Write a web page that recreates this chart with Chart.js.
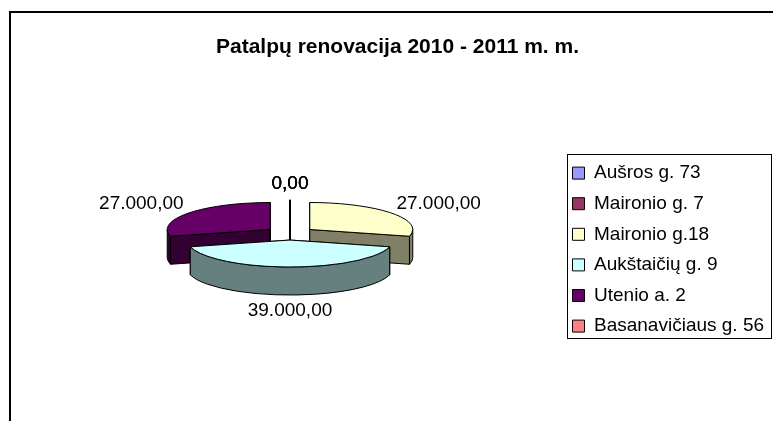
<!DOCTYPE html>
<html><head><meta charset="utf-8">
<script src="https://cdn.jsdelivr.net/npm/chart.js@4"></script>
<style>
html,body{margin:0;padding:0;background:#fff;overflow:hidden}
#wrap{position:relative;width:773px;height:421px}
#frame{position:absolute;left:9px;top:11px;right:-5px;bottom:-5px;border-left:2.5px solid #000;border-top:2.5px solid #000}
canvas{position:absolute;left:0;top:0}
</style></head><body>
<div id="wrap"><canvas id="c" width="773" height="421"></canvas><div id="frame"></div></div>
<script>
const titleText = 'Patalpų renovacija 2010 - 2011 m. m.';
const categories = ['Aušros g. 73','Maironio g. 7','Maironio g.18','Aukštaičių g. 9','Utenio a. 2','Basanavičiaus g. 56'];
const values = [0,0,27000,39000,27000,0];
const topColors = ['#9999FF','#993366','#FFFFCC','#CCFFFF','#660066','#FF8080'];
const sideColors = ['#4D4D80','#4D1A33','#808066','#668080','#330033','#804040'];
const FONT = '"Liberation Sans", Arial, sans-serif';
const LABEL_SIZE = 19, TILT = 0.262, DEPTH = 28, EXPLODE = 25, LABEL_R = 188;

const fmt = v => v.toFixed(2).replace('.', ',').replace(/\B(?=(\d{3})(?!\d))/g, '.');

function geom(a){
  const mid = (a.startAngle + a.endAngle) / 2;
  return {
    cx: a.x + Math.cos(mid) * EXPLODE,
    cy: a.y + Math.sin(mid) * EXPLODE * TILT,
    r: a.outerRadius, ry: a.outerRadius * TILT, mid
  };
}
function pt(g, t, d){ return [g.cx + Math.cos(t) * g.r, g.cy + Math.sin(t) * g.ry + (d||0)]; }
function paint(ctx, fill){ if (fill){ctx.fillStyle = fill; ctx.fill();} ctx.strokeStyle = '#000'; ctx.lineWidth = 1; ctx.stroke(); }

function drawWalls(ctx, a, side){
  const g = geom(a);
  [a.startAngle, a.endAngle].forEach(t => {
    const p = pt(g, t);
    ctx.beginPath();
    ctx.moveTo(g.cx, g.cy); ctx.lineTo(p[0], p[1]);
    ctx.lineTo(p[0], p[1] + DEPTH); ctx.lineTo(g.cx, g.cy + DEPTH); ctx.closePath();
    paint(ctx, side);
  });
  const from = Math.max(a.startAngle, 0), to = Math.min(a.endAngle, Math.PI);
  if (to > from){
    ctx.beginPath();
    ctx.ellipse(g.cx, g.cy, g.r, g.ry, 0, from, to);
    ctx.ellipse(g.cx, g.cy + DEPTH, g.r, g.ry, 0, to, from, true);
    ctx.closePath();
    paint(ctx, side);
  }
}
function drawTop(ctx, a){
  const g = geom(a);
  if (a.endAngle > a.startAngle){
    ctx.save();
    ctx.translate(g.cx, g.cy); ctx.scale(1, TILT); ctx.translate(-a.x, -a.y);
    a.draw(ctx);
    ctx.restore();
  }
  ctx.beginPath();
  ctx.moveTo(g.cx, g.cy);
  ctx.ellipse(g.cx, g.cy, g.r, g.ry, 0, a.startAngle, a.endAngle);
  ctx.closePath();
  paint(ctx, null);
}

const pie3d = {
  id: 'pie3d',
  afterLayout(chart){
    const t = chart.titleBlock; t.left = 22; t.right = 773;
    const l = chart.legend, pad = l.options.labels.padding;
    l.left = 572.5 - pad; l.right = 773; l.top = 152; l.bottom = 350;
  },
  beforeDraw(chart){
    const ctx = chart.ctx;
    ctx.save(); ctx.fillStyle = '#fff'; ctx.fillRect(0, 0, chart.width, chart.height);
    ctx.strokeStyle = '#000'; ctx.lineWidth = 1; ctx.strokeRect(567.5, 154.5, 204, 184);
    ctx.restore();
  },
  beforeDatasetsDraw(chart){
    const ctx = chart.ctx, arcs = chart.getDatasetMeta(0).data;
    const order = arcs.map((a, i) => i).sort((p, q) => Math.sin(geom(arcs[p]).mid) - Math.sin(geom(arcs[q]).mid));
    order.forEach(i => drawWalls(ctx, arcs[i], sideColors[i]));
    order.forEach(i => drawTop(ctx, arcs[i]));
    ctx.save();
    ctx.fillStyle = '#000'; ctx.font = LABEL_SIZE + 'px ' + FONT;
    ctx.textAlign = 'center'; ctx.textBaseline = 'middle';
    arcs.forEach((a, i) => {
      const s = Math.sin(geom(a).mid), c = Math.cos(geom(a).mid);
      const y = a.y + s * LABEL_R * TILT + (s > 0.5 ? DEPTH : 0);
      ctx.fillText(fmt(values[i]), a.x + c * LABEL_R, y);
    });
    ctx.restore();
    return false;
  }
};

new Chart(document.getElementById('c'), {
  type: 'pie',
  data: { labels: categories, datasets: [{ data: values, backgroundColor: topColors, borderWidth: 0, hoverOffset: 0 }] },
  options: {
    responsive: false, animation: false, events: [],
    radius: 103,
    layout: { padding: { left: 11, right: 204, top: 0, bottom: 15.6 } },
    plugins: {
      tooltip: { enabled: false },
      title: { display: true, text: titleText, color: '#000',
        font: { family: FONT, size: 21, weight: 'bold', lineHeight: 1.2 }, padding: { top: 35, bottom: 1.4 } },
      legend: { position: 'chartArea', align: 'start',
        labels: { color: '#000', boxWidth: 12, boxHeight: 12, padding: 11.6,
          font: { family: FONT, size: LABEL_SIZE },
          generateLabels(chart){
            return Chart.overrides.pie.plugins.legend.labels.generateLabels(chart)
              .map(it => Object.assign(it, { strokeStyle: '#000', lineWidth: 1 }));
          } } }
    }
  },
  plugins: [pie3d]
});
</script></body></html>
